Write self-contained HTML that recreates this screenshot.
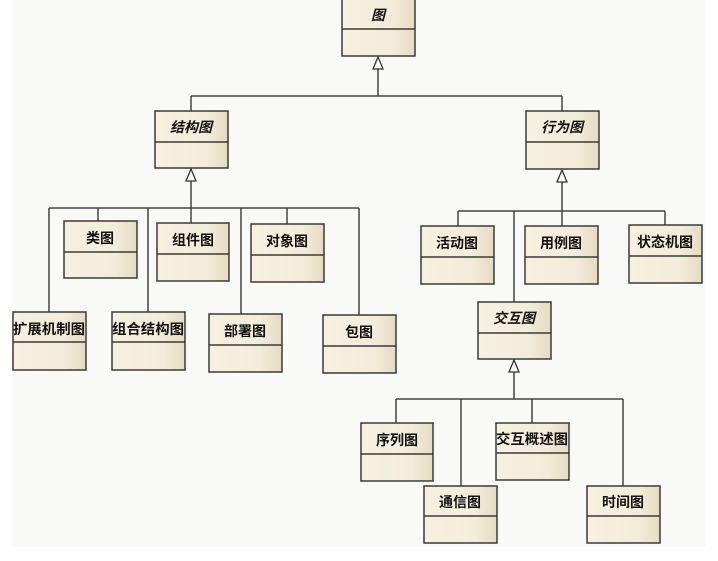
<!DOCTYPE html>
<html><head><meta charset="utf-8"><style>
html,body{margin:0;padding:0;background:#fff;}
svg{display:block;}
text{font-family:"Liberation Sans","Noto Sans CJK SC","WenQuanYi Zen Hei",sans-serif;font-weight:bold;font-size:14px;fill:#111;}
</style></head><body>
<svg width="718" height="561" viewBox="0 0 718 561" xmlns="http://www.w3.org/2000/svg">
<defs>
<linearGradient id="g" x1="0" y1="0" x2="1" y2="0">
<stop offset="0" stop-color="#f6f0df"/><stop offset="0.7" stop-color="#f3ecd9"/><stop offset="1" stop-color="#e4dbc2"/>
</linearGradient>
</defs>
<rect x="12" y="0" width="694" height="547" fill="#f9f9f7"/>
<g stroke="#444" stroke-width="1.5" fill="none">
<path d="M378 69 V96 M191 96 H562 M191 96 V111 M562 96 V111"/>
<path d="M191 181 V208 M49 208 H359 M49 208 V312 M98 208 V221 M148 208 V313 M191 208 V223 M241 208 V314 M287 208 V224 M359 208 V315"/>
<path d="M562 182 V211 M458 211 H665 M458 211 V226 M514 211 V302 M562 211 V226 M665 211 V225"/>
<path d="M514 372 V399 M396 399 H623 M396 399 V423 M461 399 V486 M532 399 V423 M623 399 V486"/>
</g>
<g stroke="#333" stroke-width="1.3" fill="#fff">
<path d="M378 57 L383 69 L373 69 Z"/>
<path d="M191 169 L196 181 L186 181 Z"/>
<path d="M562 170 L567 182 L557 182 Z"/>
<path d="M514 360 L519 372 L509 372 Z"/>
</g>
<g stroke="#3a3a3a" stroke-width="1.5" fill="url(#g)">
<rect x="342" y="-1" width="73" height="57"/>
<rect x="155" y="111" width="73" height="57"/>
<rect x="526" y="111" width="73" height="58"/>
<rect x="64" y="221" width="73" height="57"/>
<rect x="157" y="223" width="72" height="58"/>
<rect x="251" y="224" width="73" height="58"/>
<rect x="13" y="312" width="73" height="58"/>
<rect x="112" y="312" width="73" height="58"/>
<rect x="209" y="314" width="73" height="58"/>
<rect x="323" y="315" width="73" height="58"/>
<rect x="421" y="226" width="73" height="58"/>
<rect x="525" y="226" width="73" height="58"/>
<rect x="629" y="225" width="73" height="58"/>
<rect x="478" y="302" width="73" height="57"/>
<rect x="361" y="423" width="72" height="58"/>
<rect x="496" y="423" width="73" height="57"/>
<rect x="424" y="486" width="73" height="57"/>
<rect x="587" y="486" width="73" height="57"/>
</g>
<g stroke="#3a3a3a" stroke-width="1.5">
<path d="M342 29 H415 M155 142 H228 M526 142 H599 M64 252 H137 M157 254 H229 M251 255 H324 M13 342 H86 M112 342 H185 M209 345 H282 M323 346 H396 M421 257 H494 M525 257 H598 M629 256 H702 M478 333 H551 M361 454 H433 M496 453 H569 M424 516 H497 M587 516 H660"/>
</g>
<g text-anchor="middle">
<text x="378" y="20" font-style="italic">图</text>
<text x="191" y="132" font-style="italic">结构图</text>
<text x="562" y="132" font-style="italic">行为图</text>
<text x="100" y="243">类图</text>
<text x="193" y="245">组件图</text>
<text x="287" y="246">对象图</text>
<text x="49" y="334" textLength="72" lengthAdjust="spacingAndGlyphs">扩展机制图</text>
<text x="148" y="334" textLength="72" lengthAdjust="spacingAndGlyphs">组合结构图</text>
<text x="245" y="336">部署图</text>
<text x="359" y="337">包图</text>
<text x="457" y="248">活动图</text>
<text x="561" y="248">用例图</text>
<text x="665" y="247">状态机图</text>
<text x="514" y="323" font-style="italic">交互图</text>
<text x="397" y="445">序列图</text>
<text x="532" y="444" textLength="72" lengthAdjust="spacingAndGlyphs">交互概述图</text>
<text x="460" y="507">通信图</text>
<text x="623" y="507">时间图</text>
</g>
</svg>
</body></html>
